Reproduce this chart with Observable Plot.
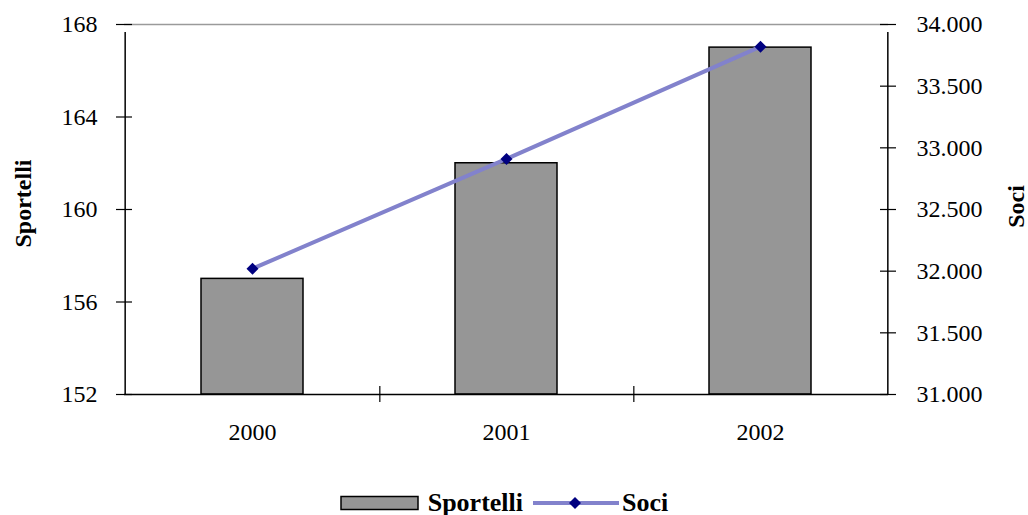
<!DOCTYPE html>
<html lang="it">
<head>
<meta charset="utf-8">
<script src="https://cdn.jsdelivr.net/npm/d3@7"></script>
<script src="https://cdn.jsdelivr.net/npm/@observablehq/plot@0.6"></script>
<style>
  html, body { margin: 0; padding: 0; background: #fff; overflow: hidden; }
  #wrap { position: relative; width: 1028px; height: 515px; }
  #legend {
    position: absolute; left: 0; top: 492px; width: 1008px; height: 22px;
    display: flex; justify-content: center; align-items: center;
    font-family: "Liberation Serif", "Times New Roman", serif;
    font-weight: bold; font-size: 26px; line-height: 22px; color: #000;
  }
  #legend .item { display: flex; align-items: center; }
  #legend svg { display: block; }
</style>
</head>
<body>
<div id="wrap">
  <div id="chart"></div>
  <div id="legend"></div>
</div>
<script>
// Anni, sportelli (asse sinistro) e soci (asse destro)
const anni = ["2000", "2001", "2002"];
const sportelli = [157, 162, 167];
const soci = [32020, 32910, 33820];

// Valori delle tacche sui due assi
const sportelliTicks = [152, 156, 160, 164, 168];
const sociTicks = [31000, 31500, 32000, 32500, 33000, 33500, 34000];

const barFill = "#969696";
const lineColor = "#8282cc";
const markerColor = "#000080";

// Dominio dei due assi verticali
const yMin = sportelliTicks[0], yMax = sportelliTicks[sportelliTicks.length - 1];
const sMin = sociTicks[0], sMax = sociTicks[sociTicks.length - 1];
// Porta un numero di soci sulla scala degli sportelli e viceversa
const toLeft = v => yMin + (v - sMin) * (yMax - yMin) / (sMax - sMin);
const fromLeft = v => sMin + (v - yMin) * (sMax - sMin) / (yMax - yMin);

const it = d3.formatLocale({decimal: ",", thousands: ".", grouping: [3], currency: ["€", ""]});
const fmtSoci = it.format(",.0f");

const data = anni.map((anno, i) => ({anno, sportelli: sportelli[i], soci: soci[i], sociY: toLeft(soci[i])}));

const W = 1028, H = 486;
const mL = 124, mR = 140, mT = 24, mB = 92;
const innerW = W - mL - mR;
const step = innerW / anni.length;   // paddingOuter = paddingInner / 2

const tickFont = 24;

const chart = Plot.plot({
  width: W,
  height: H,
  marginLeft: mL,
  marginRight: mR,
  marginTop: mT,
  marginBottom: mB,
  style: {fontFamily: "Liberation Serif, 'Times New Roman', serif", fontSize: "24px", background: "#fff", color: "#000"},
  x: {domain: anni, paddingInner: 0.6, paddingOuter: 0.3},
  y: {domain: [yMin, yMax]},
  marks: [
    // colonne degli sportelli
    Plot.barY(data, {x: "anno", y1: () => yMin, y2: "sportelli", fill: barFill, stroke: "#000", strokeWidth: 1.5}),
    // bordo superiore dell'area
    Plot.ruleY([yMax], {stroke: "#9a9a9a", strokeWidth: 1.5}),
    // asse orizzontale
    Plot.ruleY([yMin], {stroke: "#000", strokeWidth: 1.5}),
    // assi verticali sinistro e destro
    Plot.ruleX([anni[0]], {x: d => d, dx: -step / 2, y1: yMin, y2: yMax, insetBottom: -8, stroke: "#000", strokeWidth: 1.5}),
    Plot.ruleX([anni[anni.length - 1]], {x: d => d, dx: step / 2, y1: yMin, y2: yMax, insetBottom: -8, stroke: "#000", strokeWidth: 1.5}),
    // tacche tra le categorie
    Plot.ruleX(anni.slice(0, -1), {x: d => d, dx: step / 2, y1: yMin, y2: yMin, insetTop: -8, insetBottom: -8, stroke: "#000", strokeWidth: 1.2}),
    // tacche incrociate sugli assi verticali
    Plot.tickY(sportelliTicks, {y: d => d, insetLeft: -8, insetRight: innerW - 8, stroke: "#000", strokeWidth: 1.2}),
    Plot.tickY(sociTicks.map(toLeft), {y: d => d, insetLeft: innerW - 8, insetRight: -8, stroke: "#000", strokeWidth: 1.2}),
    // etichette degli assi
    Plot.axisX({tickSize: 0, tickPadding: 28, label: null, fontSize: tickFont}),
    Plot.axisY({anchor: "left", ticks: sportelliTicks, tickSize: 0, tickPadding: 27, label: null, fontSize: tickFont, tickFormat: d => String(d)}),
    Plot.axisY({anchor: "right", ticks: sociTicks.map(toLeft), tickSize: 0, tickPadding: 28, label: null, fontSize: tickFont,
      tickFormat: d => fmtSoci(Math.round(fromLeft(d)))}),
    // titoli degli assi
    Plot.text(["Sportelli"], {frameAnchor: "left", dx: -101, dy: -6, rotate: -90, textAnchor: "middle", text: d => d, fontWeight: "bold", fontSize: 24, fill: "#000"}),
    Plot.text(["Soci"], {frameAnchor: "right", dx: 128, dy: -3, rotate: -90, textAnchor: "middle", text: d => d, fontWeight: "bold", fontSize: 24, fill: "#000"}),
    // linea dei soci
    Plot.line(data, {x: "anno", y: "sociY", stroke: lineColor, strokeWidth: 4}),
    Plot.dot(data, {x: "anno", y: "sociY", symbol: "square", rotate: 45, r: 4.8, fill: markerColor, stroke: "none"})
  ]
});
document.getElementById("chart").appendChild(chart);

// Legenda
const legend = d3.select("#legend");
const it1 = legend.append("div").attr("class", "item");
const sw1 = it1.append("svg").attr("width", 80).attr("height", 16);
sw1.append("rect").attr("x", 1).attr("y", 1.5).attr("width", 77).attr("height", 13)
  .attr("fill", barFill).attr("stroke", "#000").attr("stroke-width", 1.5);
it1.append("span").style("margin-left", "8px").text("Sportelli");

const it2 = legend.append("div").attr("class", "item").style("margin-left", "10px");
const sw2 = it2.append("svg").attr("width", 86).attr("height", 16);
sw2.append("line").attr("x1", 0).attr("x2", 86).attr("y1", 8).attr("y2", 8)
  .attr("stroke", lineColor).attr("stroke-width", 4);
sw2.append("path").attr("d", d3.symbol(d3.symbolSquare, 4.8 * 4.8 * Math.PI)())
  .attr("transform", "translate(42,8) rotate(45)").attr("fill", markerColor);
it2.append("span").style("margin-left", "3px").text("Soci");
</script>
</body>
</html>
